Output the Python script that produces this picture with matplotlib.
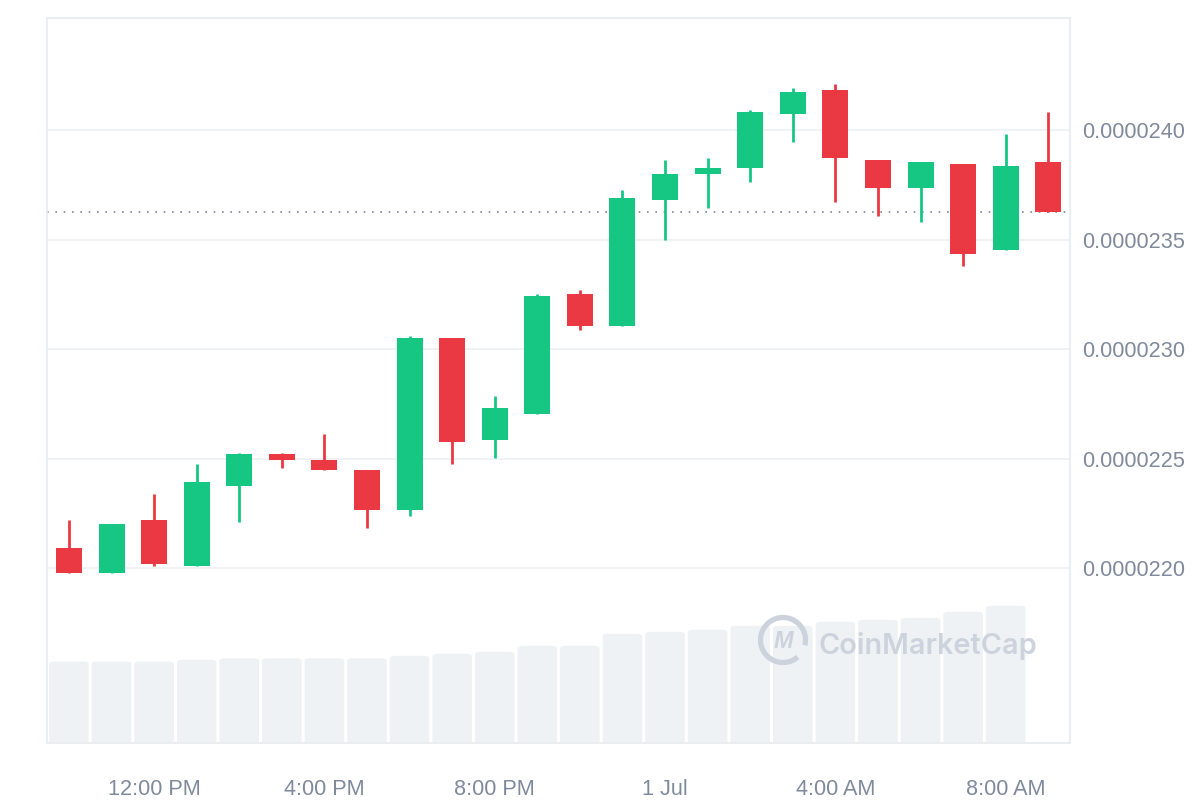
import matplotlib.pyplot as plt
import matplotlib.ticker as mticker
from matplotlib.patches import Rectangle, Arc, FancyBboxPatch

plt.rcParams['font.family'] = ['Liberation Sans', 'DejaVu Sans']

# hourly candles, 30 Jun 10:00 AM -> 1 Jul 9:00 AM (prices in units of 1e-7)
opens = [220.93, 219.76, 222.19, 220.11, 223.76, 225.21, 224.93, 224.47,
         222.68, 230.50, 225.86, 227.05, 232.51, 231.06, 236.82, 238.00,
         238.28, 240.74, 241.83, 238.63, 237.37, 238.45, 234.53, 238.54]
highs = [222.19, 222.01, 223.37, 224.75, 225.28, 225.28, 226.12, 224.47,
         230.59, 230.50, 227.85, 232.51, 232.69, 237.26, 238.63, 238.72,
         240.91, 241.92, 242.10, 238.63, 238.54, 238.45, 239.82, 240.82]
lows = [219.76, 219.76, 220.11, 220.11, 222.11, 224.58, 224.49, 221.84,
        222.39, 224.78, 225.04, 227.05, 230.87, 231.06, 234.99, 236.45,
        237.64, 239.47, 236.73, 236.09, 235.81, 233.80, 234.53, 236.27]
closes = [219.76, 222.01, 220.21, 223.93, 225.21, 224.93, 224.49, 222.68,
          230.50, 225.77, 227.31, 232.42, 231.06, 236.89, 237.99, 238.26,
          240.82, 241.74, 238.74, 237.37, 238.54, 234.35, 238.36, 236.27]
volumes = [40.8, 40.8, 40.8, 41.7, 42.5, 42.5, 42.5, 42.5, 43.7, 44.7, 45.7,
           48.7, 48.7, 54.7, 55.7, 56.7, 58.7, 58.7, 60.7, 61.7, 62.7, 65.7, 68.7]

tick_pos = [2, 6, 10, 14, 18, 22]
tick_labels = ['12:00 PM', '4:00 PM', '8:00 PM', '1 Jul', '4:00 AM', '8:00 AM']
y_ticks = [220, 225, 230, 235, 240]

up = '#16c784'
down = '#ea3943'
grid_c = '#eff2f5'
txt_c = '#808a9d'
wm_c = '#cdd3dd'

fig = plt.figure(figsize=(12, 8), dpi=100)
pos = [0.039, 0.071, 0.853, 0.906]

axv = fig.add_axes(pos)
axv.set_xlim(-0.52, 23.52)
axv.set_ylim(0, 362.5)
# rounded-top volume bars
for i, v in enumerate(volumes):
    axv.add_patch(FancyBboxPatch((i - 0.465, -5), 0.93, v + 5,
                                 boxstyle='round,pad=0,rounding_size=0.12',
                                 mutation_aspect=362.5 / 24 * 0.7,
                                 facecolor='#eff2f5', edgecolor='none', zorder=1))
axv.axis('off')

ax = fig.add_axes(pos, sharex=axv)
ax.patch.set_alpha(0)
scale = 1e-7
for i in range(len(opens)):
    o, h, l, c = opens[i], highs[i], lows[i], closes[i]
    col = up if c >= o else down
    ax.vlines(i, l * scale, h * scale, color=col, lw=2, zorder=3)
    bottom = min(o, c) * scale
    height = max(abs(c - o), 0.15) * scale
    ax.add_patch(Rectangle((i - 0.305, bottom), 0.61, height, facecolor=col,
                           edgecolor='none', zorder=4))

ax.axhline(closes[-1] * scale, color='#7d8698', lw=1.2, ls=(0, (1, 4)), zorder=2)

ax.set_ylim(212.01 * scale, 245.11 * scale)
ax.set_yticks([v * scale for v in y_ticks])
ax.yaxis.set_major_formatter(mticker.FormatStrFormatter('%.7f'))
ax.yaxis.tick_right()
ax.set_xticks(tick_pos)
ax.set_xticklabels(tick_labels)
ax.tick_params(axis='both', length=0, labelsize=15.6, labelcolor=txt_c)
ax.tick_params(axis='y', pad=8.5)
ax.tick_params(axis='x', pad=26)
ax.grid(axis='y', color=grid_c, lw=1.3, zorder=0)
for s in ax.spines.values():
    s.set_color('#e8ebef')
    s.set_linewidth(1.2)

# watermark
fig.patches.append(Arc((783 / 1200, 1 - 640 / 800), 45 / 1200, 45 / 800, theta1=-20, theta2=300,
                       transform=fig.transFigure, edgecolor=wm_c, lw=3.8, zorder=5))
fig.text(783 / 1200, 1 - 641 / 800, 'M', ha='center', va='center', fontsize=17,
         color=wm_c, style='italic', fontweight='bold', zorder=6)
fig.text(818 / 1200, 1 - 646 / 800, 'CoinMarketCap', ha='left', va='center',
         fontsize=20.8, color=wm_c, family='Inter', fontweight='semibold', zorder=6)

fig.savefig('out.png', dpi=100)
